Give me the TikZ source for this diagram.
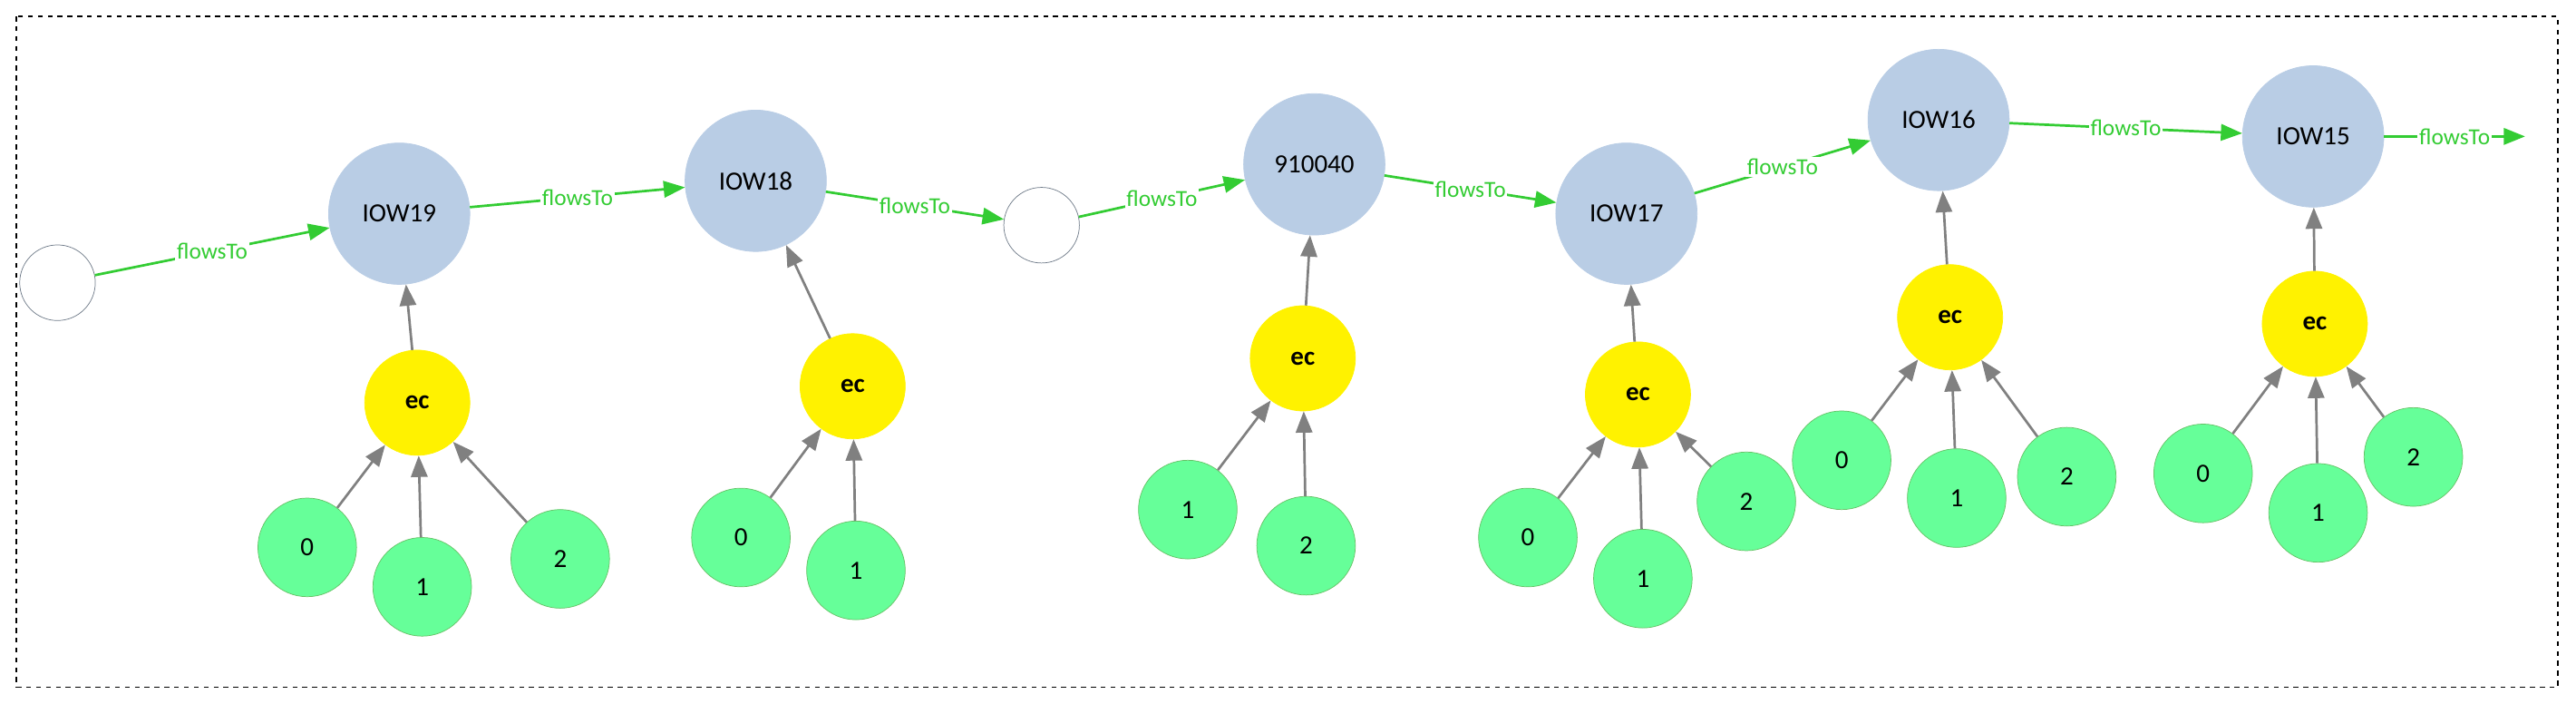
\documentclass[tikz,border=0pt]{standalone}
\usepackage{fontspec}
\setmainfont{Carlito}
\usetikzlibrary{arrows.meta, positioning}
\definecolor{stationblue}{HTML}{B9CDE5}
\definecolor{flowgreen}{HTML}{33CC33}
\definecolor{sensorgreen}{HTML}{66FF99}
\tikzset{
    station/.style={circle, fill=stationblue, draw=stationblue, minimum size=86pt, font=\fontsize{16}{18}\selectfont},
    blank/.style={circle, draw=stationblue!60!black, fill=white, minimum size=46pt},
    ec/.style={circle, fill=yellow, draw=yellow, minimum size=64pt, font=\fontsize{16}{18}\selectfont\bfseries},
    sensor/.style={circle, fill=sensorgreen, draw=green!60!black!60, minimum size=60pt, font=\fontsize{16}{18}\selectfont},
    flows/.style={flowgreen, line width=1.5pt, -{Triangle[length=13pt,width=10pt]}},
    feeds/.style={gray, line width=1.5pt, -{Triangle[length=13pt,width=10pt]}},
    lbl/.style={midway, fill=white, inner sep=1pt, text=flowgreen, font=\fontsize{14}{16}\selectfont}
}
\begin{document}
\begin{tikzpicture}[x=1pt, y=-1pt]
\useasboundingbox (0,0) rectangle (1568,428);
\draw[dashed, thick] (10,10) rectangle (1557,418);

%stations
\node[blank] (b1) at (35,172) {};
\node[station] (s19) at (243,130) {IOW19};
\node[station] (s18) at (460,110) {IOW18};
\node[blank] (b2) at (634,137) {};
\node[station] (s40) at (800,100) {910040};
\node[station] (s17) at (990,130) {IOW17};
\node[station] (s16) at (1180,73) {IOW16};
\node[station] (s15) at (1408,83) {IOW15};
\coordinate (end) at (1537,83);

%flows
\draw[flows] (b1) -- node[lbl]{flowsTo} (s19);
\draw[flows] (s19) -- node[lbl]{flowsTo} (s18);
\draw[flows] (s18) -- node[lbl]{flowsTo} (b2);
\draw[flows] (b2) -- node[lbl]{flowsTo} (s40);
\draw[flows] (s40) -- node[lbl]{flowsTo} (s17);
\draw[flows] (s17) -- node[lbl]{flowsTo} (s16);
\draw[flows] (s16) -- node[lbl]{flowsTo} (s15);
\draw[flows] (s15) -- node[lbl]{flowsTo} (end);

%ec nodes
\foreach \n/\x/\y/\s in {e19/254/245/s19, e18/519/235/s18, e40/793/218/s40,
                        e17/997/240/s17, e16/1187/193/s16, e15/1409/197/s15}{
    \node[ec] (\n) at (\x,\y) {ec};
    \draw[feeds] (\n) -- (\s);
}

%sensors
\foreach \n/\t/\x/\y/\e in {a0/0/187/333/e19, a1/1/257/357/e19, a2/2/341/340/e19,
                           b0/0/451/327/e18, b1/1/521/347/e18,
                           c1/1/723/310/e40, c2/2/795/332/e40,
                           d0/0/930/327/e17, d1/1/1000/352/e17, d2/2/1063/305/e17,
                           f0/0/1121/280/e16, f1/1/1191/303/e16, f2/2/1258/290/e16,
                           g0/0/1341/288/e15, g1/1/1411/312/e15, g2/2/1469/278/e15}{
    \node[sensor] (\n) at (\x,\y) {\t};
    \draw[feeds] (\n) -- (\e);
}
\end{tikzpicture}
\end{document}
